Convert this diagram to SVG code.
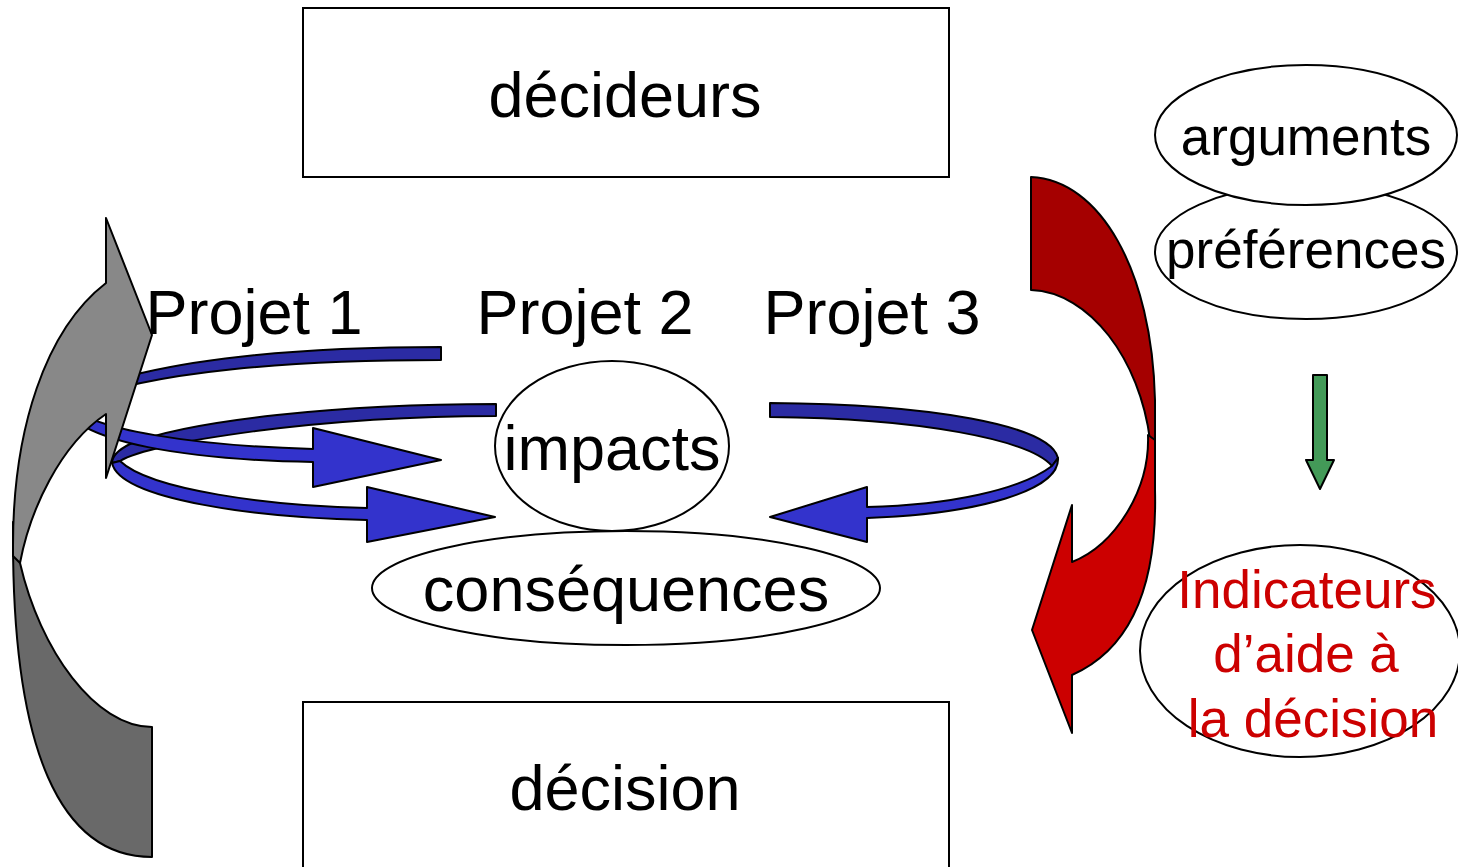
<svg xmlns="http://www.w3.org/2000/svg" width="1458" height="867" viewBox="0 0 1458 867">
<style>
.box{fill:#fff;stroke:#000;stroke-width:2}
.ell{fill:#fff;stroke:#000;stroke-width:2}
.sh{stroke:#000;stroke-width:2;stroke-linejoin:round}
.t{font-family:"Liberation Sans",Arial,sans-serif;fill:#000;text-anchor:middle}
.big{font-size:63px}
.mid{font-size:53px}
.red{fill:#cc0000}
.bd{fill:#2b2ba3}
.bb{fill:#3333cc}
</style>
<rect width="1458" height="867" fill="#fff"/>
<g id="decideurs">
<rect class="box" x="303" y="8" width="646" height="169"/>
<text class="t big" x="625" y="117">décideurs</text>
</g>
<g id="decision">
<rect class="box" x="303" y="702" width="646" height="180"/>
<text class="t big" x="625" y="810">décision</text>
</g>
<g id="consequences">
<ellipse class="ell" cx="626" cy="588" rx="254" ry="57"/>
<text class="t big" x="626" y="611">conséquences</text>
</g>
<g id="impacts">
<ellipse class="ell" cx="612" cy="446" rx="117" ry="85"/>
<text class="t big" x="612" y="470">impacts</text>
</g>
<g id="preferences">
<ellipse class="ell" cx="1306" cy="252" rx="151" ry="67"/>
<text class="t mid" x="1306" y="268">préférences</text>
</g>
<g id="arguments">
<ellipse class="ell" cx="1306" cy="135" rx="151" ry="70"/>
<text class="t mid" x="1306" y="155">arguments</text>
</g>
<g id="indicateurs">
<ellipse class="ell" cx="1300" cy="651" rx="160" ry="106"/>
<text class="t mid red" x="1307" y="608">Indicateurs</text>
<text class="t mid red" x="1306" y="672">d’aide à</text>
<text class="t mid red" x="1313" y="737">la décision</text>
</g>
<g id="connectors">
<!-- arrow from Projet 2 -->
<path class="sh bd" d="M496,404 C340,404 190,420 130,444 C118,450 112,456 112,463 L120,461 C150,442 320,416 496,416 Z"/>
<path class="sh bb" d="M120,461 C150,490 270,506 367,508 L367,487 L495,517 L367,542 L367,520 C260,518 120,500 112,463 Z"/>
<!-- arrow from Projet 1 -->
<path class="sh bd" d="M441,347 C300,347 150,358 60,400 L70,404 C150,370 300,360 441,360 Z"/>
<path class="sh bb" d="M70,404 C85,430 200,446 313,449 L313,428 L441,460 L313,487 L313,462 C200,460 70,445 60,400 Z"/>
<!-- arrow from Projet 3 -->
<path class="sh bd" d="M770,403 C930,404 1050,425 1058,458 L1052,466 C1030,440 920,418 770,417 Z"/>
<path class="sh bb" d="M1052,466 C1020,490 950,505 867,507 L867,487 L770,517 L867,542 L867,518 C980,514 1060,490 1058,458 Z"/>
<!-- gray feedback arrow -->
<path class="sh" fill="#696969" d="M13,522 L13,540 C13,750 60,857 152,857 L152,727 C95,727 40,650 20,563 C17,548 15,535 13,522 Z"/>
<path class="sh" fill="#888888" d="M106,283 C45,330 13,430 13,545 L13,556 L20,563 C30,510 60,445 106,414 L106,478 L152,335 L106,218 Z"/>
<!-- red arrow -->
<path class="sh" fill="#a50000" d="M1031,177 C1100,180 1152,270 1155,400 L1155,480 L1150,440 C1140,360 1090,292 1031,290 Z"/>
<path class="sh" fill="#cc0000" d="M1148,435 C1150,490 1115,545 1072,562 L1072,505 L1032,630 L1072,733 L1072,675 C1140,645 1157,570 1155,490 L1155,440 Z"/>
<!-- green arrow -->
<path class="sh" fill="#439a58" d="M1313,375 L1327,375 L1327,460 L1334,460 L1320,489 L1306,460 L1313,460 Z"/>
</g>
<g id="projets">
<text class="t big" x="254" y="334">Projet 1</text>
<text class="t big" x="585" y="334">Projet 2</text>
<text class="t big" x="872" y="334">Projet 3</text>
</g>
</svg>
